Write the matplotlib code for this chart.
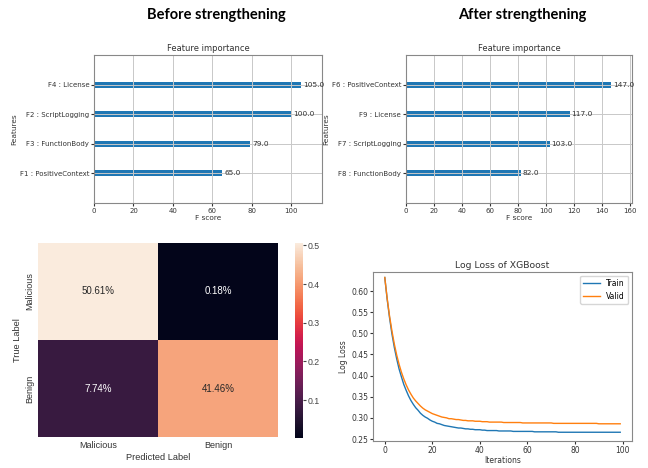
import matplotlib
matplotlib.use("Agg")
import matplotlib.pyplot as plt
import seaborn as sns
import numpy as np

# feature importance, before / after
before_feats = ["F1 : PositiveContext", "F3 : FunctionBody", "F2 : ScriptLogging", "F4 : License"]
before_scores = [65.0, 79.0, 100.0, 105.0]
after_feats = ["F8 : FunctionBody", "F7 : ScriptLogging", "F9 : License", "F6 : PositiveContext"]
after_scores = [82.0, 103.0, 117.0, 147.0]

# confusion matrix (fractions)
cm_labels = ["Malicious", "Benign"]
cm_values = [[0.5061, 0.0018],
             [0.0774, 0.4146]]

# log loss per iteration
train_loss = [
    0.632, 0.581, 0.537, 0.499, 0.467, 0.440, 0.416, 0.397, 0.379, 0.365,
    0.352, 0.341, 0.332, 0.324, 0.318, 0.311, 0.306, 0.302, 0.299, 0.295,
    0.292, 0.290, 0.287, 0.286, 0.284, 0.282, 0.281, 0.280, 0.279, 0.278,
    0.277, 0.276, 0.276, 0.275, 0.274, 0.274, 0.273, 0.273, 0.272, 0.272,
    0.272, 0.271, 0.271, 0.270, 0.270, 0.270, 0.270, 0.270, 0.269, 0.269,
    0.269, 0.269, 0.269, 0.269, 0.268, 0.268, 0.268, 0.268, 0.268, 0.268,
    0.268, 0.268, 0.268, 0.267, 0.267, 0.267, 0.267, 0.267, 0.267, 0.267,
    0.267, 0.267, 0.267, 0.266, 0.266, 0.266, 0.266, 0.266, 0.266, 0.266,
    0.266, 0.266, 0.266, 0.266, 0.266, 0.266, 0.266, 0.266, 0.266, 0.266,
    0.266, 0.266, 0.266, 0.266, 0.266, 0.266, 0.266, 0.266, 0.266, 0.266,
]
valid_loss = [
    0.632, 0.583, 0.541, 0.506, 0.475, 0.449, 0.427, 0.408, 0.392, 0.378,
    0.366, 0.356, 0.347, 0.340, 0.334, 0.328, 0.323, 0.319, 0.316, 0.313,
    0.310, 0.308, 0.306, 0.304, 0.302, 0.301, 0.300, 0.298, 0.298, 0.297,
    0.296, 0.296, 0.295, 0.294, 0.294, 0.293, 0.293, 0.293, 0.292, 0.292,
    0.292, 0.291, 0.291, 0.291, 0.290, 0.290, 0.290, 0.290, 0.290, 0.290,
    0.289, 0.289, 0.289, 0.289, 0.289, 0.289, 0.289, 0.289, 0.288, 0.288,
    0.288, 0.288, 0.288, 0.288, 0.288, 0.288, 0.288, 0.288, 0.288, 0.288,
    0.288, 0.287, 0.287, 0.287, 0.287, 0.287, 0.287, 0.287, 0.287, 0.287,
    0.287, 0.287, 0.287, 0.287, 0.287, 0.287, 0.287, 0.287, 0.287, 0.287,
    0.286, 0.286, 0.286, 0.286, 0.286, 0.286, 0.286, 0.286, 0.286, 0.286,
]

W, H = 648, 468
fig = plt.figure(figsize=(6.48, 4.68), dpi=100)


def px_axes(x0, y0, x1, y1):
    # pixel box (top-left origin) -> figure axes
    return fig.add_axes([x0 / W, 1 - y1 / H, (x1 - x0) / W, (y1 - y0) / H])


def importance(ax, feats, scores):
    ylocs = np.arange(len(feats))
    ax.barh(ylocs, scores, height=0.2, align="center", color="#1f77b4")
    for x, y in zip(scores, ylocs):
        ax.text(x + 1, y, str(x), va="center", fontsize=5.3, color="#333333")
    ax.set_yticks(ylocs)
    ax.set_yticklabels(feats)
    ax.set_xlim(0, max(scores) * 1.1)
    ax.set_ylim(-1, len(feats))
    ax.grid(True, color="#c8c8c8", linewidth=0.7)
    ax.set_title("Feature importance", fontsize=6, pad=3, color="#333333")
    ax.set_xlabel("F score", fontsize=5.3, labelpad=1, color="#333333")
    ax.set_ylabel("Features", fontsize=5.3, labelpad=2, color="#333333")
    ax.tick_params(labelsize=5, length=2, pad=1.5, colors="#333333")
    for s in ax.spines.values():
        s.set_color("#888888")
        s.set_linewidth(0.8)


ax1 = px_axes(94, 55, 322, 203)
importance(ax1, before_feats, before_scores)
ax2 = px_axes(406, 55, 632, 203)
importance(ax2, after_feats, after_scores)

fig.text(216 / W, 1 - 15 / H, "Before strengthening", ha="center", va="center",
         fontsize=10.5, fontweight="bold", family="Lato")
fig.text(522 / W, 1 - 15 / H, "After strengthening", ha="center", va="center",
         fontsize=10.5, fontweight="bold", family="Lato")

# confusion matrix heatmap
ax3 = px_axes(38, 243, 278, 437)
cax = px_axes(295, 243, 303, 438)
sns.heatmap(np.array(cm_values), annot=True, fmt=".2%", cmap="rocket", ax=ax3, cbar_ax=cax,
            annot_kws={"fontsize": 7, "family": "Liberation Sans"},
            xticklabels=cm_labels, yticklabels=cm_labels)
ax3.set_xlabel("Predicted Label", fontsize=6.7, family="Liberation Sans", color="#333333", labelpad=2)
ax3.set_ylabel("True Label", fontsize=6.7, family="Liberation Sans", color="#333333", labelpad=2)
ax3.tick_params(length=0, labelsize=6.5, pad=3)
for lab in ax3.get_xticklabels() + ax3.get_yticklabels():
    lab.set_family("Liberation Sans")
    lab.set_color("#333333")
ax3.set_yticklabels(cm_labels, va="center", rotation=90)
cax.tick_params(labelsize=6.3, length=2, pad=1, colors="#444444")
for lab in cax.get_yticklabels():
    lab.set_family("Liberation Sans")
for s in cax.spines.values():
    s.set_visible(False)

# log loss
ax4 = px_axes(373, 272, 632, 441)
iters = np.arange(len(train_loss))
ax4.plot(iters, train_loss, color="#1f77b4", linewidth=1.0, label="Train")
ax4.plot(iters, valid_loss, color="#ff7f0e", linewidth=1.0, label="Valid")
ax4.set_title("Log Loss of XGBoost", fontsize=6.7, pad=3, color="#333333")
ax4.set_xlabel("Iterations", fontsize=5.5, labelpad=1, color="#333333")
ax4.set_ylabel("Log Loss", fontsize=5.5, labelpad=2, color="#333333")
ax4.set_yticks([0.25, 0.30, 0.35, 0.40, 0.45, 0.50, 0.55, 0.60])
ax4.set_ylim(0.2453, 0.645)
ax4.tick_params(labelsize=5.5, length=2, pad=1.5, colors="#333333")
ax4.legend(loc="upper right", fontsize=5.5, handlelength=2.2, borderpad=0.4)
for s in ax4.spines.values():
    s.set_color("#888888")
    s.set_linewidth(0.8)

fig.savefig("out.png", dpi=100)
